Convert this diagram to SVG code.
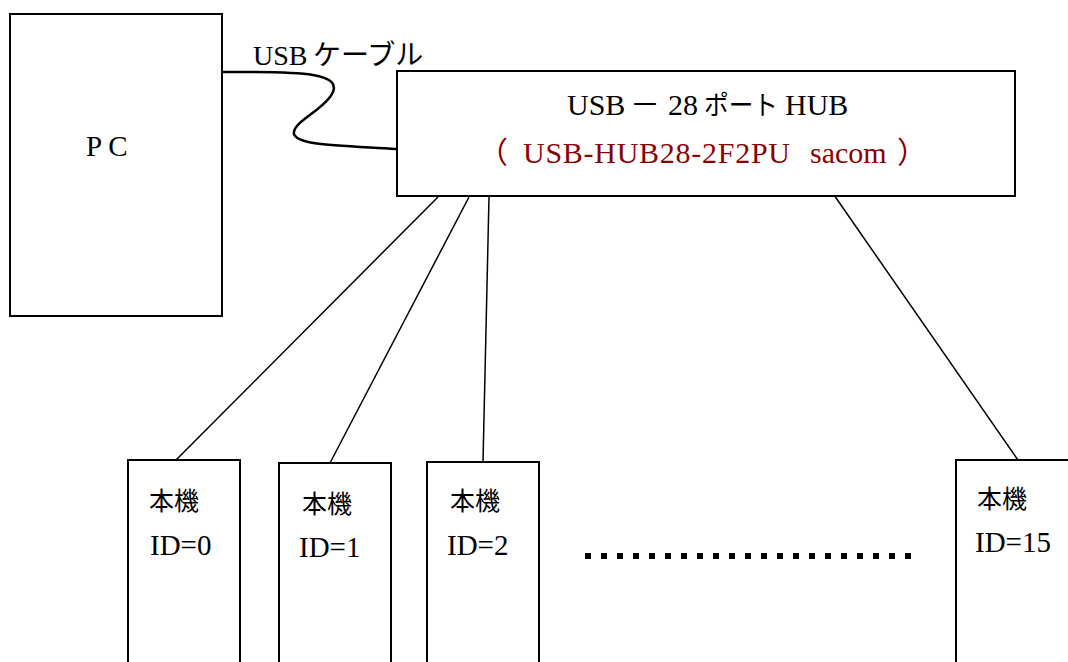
<svg xmlns="http://www.w3.org/2000/svg" width="1068" height="662" viewBox="0 0 1068 662">
<style>
.box{fill:#fff;stroke:#000;stroke-width:2}
.ln{stroke:#000;stroke-width:1.5;fill:none}
.cable{stroke:#000;stroke-width:2.5;fill:none}
.ser{font-family:"Liberation Serif","Noto Sans CJK JP",serif;fill:#000}
.jp{font-family:"Noto Sans CJK JP",sans-serif;fill:#000;font-size:25px}
.id{font-family:"Liberation Serif",serif;font-size:29px;fill:#000}
.red{fill:#8c0000}
</style>
<rect x="0" y="0" width="1068" height="662" fill="#fff"/>
<g id="connectors">
<path class="cable" d="M222,72 C290,72 350,70 330,97 C318,113 292,123 294,134 C298,145 330,145 396,149"/>
<line class="ln" x1="438" y1="197" x2="176" y2="460"/>
<line class="ln" x1="469" y1="197" x2="330" y2="463"/>
<line class="ln" x1="489" y1="197" x2="483" y2="462"/>
<line class="ln" x1="834" y1="195" x2="1018" y2="460"/>
</g>
<g id="pc">
<rect class="box" x="10" y="14" width="212" height="302"/>
<text class="ser" x="86" y="156" font-size="29">P C</text>
</g>
<g id="cable-label">
<text class="ser" font-size="28" y="65"><tspan x="253">USB</tspan><tspan x="313">ケーブル</tspan></text>
</g>
<g id="hub">
<rect class="box" x="397" y="71" width="618" height="125"/>
<text class="ser" font-size="30" y="115"><tspan x="567">USB</tspan><tspan x="630">－</tspan><tspan x="668">28</tspan><tspan x="704" font-size="27" textLength="74" lengthAdjust="spacingAndGlyphs">ポート</tspan><tspan x="785">HUB</tspan></text>
<text class="ser red" font-size="30" y="163"><tspan x="478">（</tspan><tspan x="523" textLength="267" lengthAdjust="spacing">USB-HUB28-2F2PU</tspan><tspan x="810">sacom</tspan><tspan x="897">）</tspan></text>
</g>
<g id="dev0">
<rect class="box" x="128" y="460" width="112" height="210"/>
<text class="jp" x="149" y="510">本機</text>
<text class="id" x="150" y="555">ID=0</text>
</g>
<g id="dev1">
<rect class="box" x="279" y="463" width="112" height="210"/>
<text class="jp" x="302" y="513">本機</text>
<text class="id" x="299" y="557">ID=1</text>
</g>
<g id="dev2">
<rect class="box" x="427" y="462" width="112" height="210"/>
<text class="jp" x="450" y="510">本機</text>
<text class="id" x="447" y="555">ID=2</text>
</g>
<g id="ellipsis">
<line x1="585" y1="556" x2="911" y2="556" stroke="#000" stroke-width="6" stroke-dasharray="6 10"/>
</g>
<g id="dev15">
<rect class="box" x="956" y="460" width="114" height="210"/>
<text class="jp" x="977" y="508">本機</text>
<text class="id" x="975" y="552">ID=15</text>
</g>
</svg>
